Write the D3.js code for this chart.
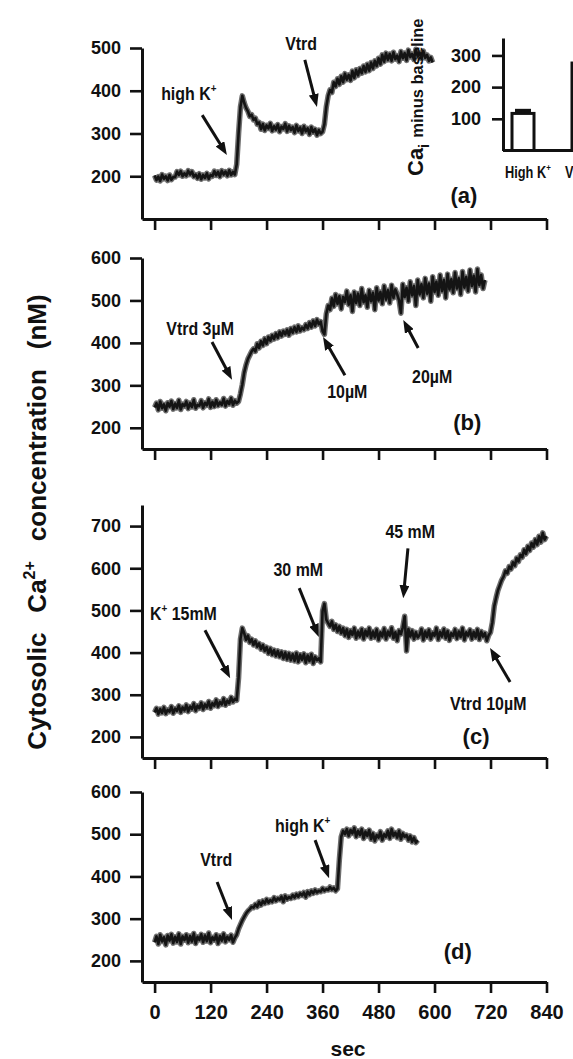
<!DOCTYPE html>
<html>
<head>
<meta charset="utf-8">
<script src="https://cdn.jsdelivr.net/npm/d3@7"></script>
<style>
  body { margin: 0; background: #fff; }
  svg { display: block; font-family: "Liberation Sans", Arial, Helvetica, sans-serif; font-weight: bold; }
</style>
</head>
<body>
<svg id="fig" width="573" height="1059"></svg>
<script>
// ---------- data ----------
const sampleStep = 4;                       // seconds between recorded samples
const timeTicks = [0, 120, 240, 360, 480, 600, 720, 840];

// (a) high K+ then vatratoxin, Ca (nM)
const traceA = [
  202,191,199,189,204,194,200,190,203,192,198,
  198,211,203,212,200,207,201,213,204,211,
  199,204,195,206,193,203,196,207,194,203,
  200,212,202,210,199,213,204,211,201,214,203,210,204,
  228,300,362,388,372,360,352,340,344,332,336,322,
  326,310,322,307,319,312,324,306,317,309,321,304,316,311,323,305,318,308,315,302,
  319,306,314,300,317,305,312,298,315,303,310,296,308,300,304,
  322,362,388,402,396,420,
  410,428,415,434,420,440,426,437,424,446,430,449,436,452,441,458,444,462,447,466,
  452,470,458,476,462,484,468,488,472,
  486,470,490,474,482,468,492,476,488,471,495,479,486,473,497,480,489,475,493,477,
  484,470,478,466
];

// (b) cumulative vatratoxin 3, 10, 20 µM
const traceB = [
  248,258,242,262,246,255,240,259,250,263,244,257,247,265,243,256,251,262,245,258,
  249,266,246,254,252,264,247,259,253,268,248,261,250,266,252,260,254,269,251,263,
  256,270,253,264,258,262,
  280,302,330,348,362,371,380,386,
  380,398,388,404,394,410,398,414,405,418,409,422,412,426,416,428,420,431,418,434,
  424,437,426,440,428,436,431,443,434,448,437,452,440,455,444,450,428,
  420,468,488,
  478,505,486,514,492,510,480,508,496,522,
  490,512,474,520,494,516,488,528,496,512,
  484,524,498,518,478,530,500,520,492,534,
  502,524,494,536,506,526,514,500,470,538,
  508,530,498,544,512,534,488,548,514,538,
  506,552,516,540,498,556,520,544,512,560,
  522,548,506,562,526,550,518,566,528,552,
  514,568,530,555,522,572,534,558,520,574,
  536,560,528,548
];

// (c) K+ 15, 30, 45 mM then vatratoxin 10 µM
const traceC = [
  258,268,254,266,257,270,255,264,260,272,256,267,262,274,258,270,263,276,260,272,
  266,279,262,274,268,281,265,277,270,284,268,280,274,288,272,283,277,291,275,286,
  280,294,283,290,287,
  340,432,458,
  446,430,440,424,432,418,428,414,422,408,418,404,413,398,410,395,406,392,404,390,
  402,386,400,384,398,382,396,380,399,378,395,383,397,376,393,380,396,374,390,382,
  386,378,
  498,516,
  478,470,462,474,455,466,450,462,446,458,
  440,455,436,452,442,458,434,450,438,456,
  432,452,440,458,434,450,436,455,430,448,
  438,457,432,450,440,459,434,448,428,452,
  444,460,486,404,456,438,452,432,448,436,
  442,456,430,450,437,454,432,447,440,458,
  431,449,438,456,434,451,429,446,439,455,
  433,450,437,458,430,448,440,454,432,449,
  436,455,431,450,438,446,428,441,
  448,472,510,530,548,560,572,580,594,588,604,598,614,606,624,616,632,626,644,634,
  652,642,660,650,668,656,676,662,684,668,676
];

// (d) vatratoxin then high K+
const traceD = [
  244,258,240,262,246,256,238,260,248,263,242,257,245,264,240,258,249,262,243,259,
  246,265,241,257,250,263,244,260,247,266,243,256,249,262,241,259,248,264,245,257,
  250,261,244,255,
  262,276,286,296,304,312,318,322,328,326,334,
  328,340,332,342,336,346,338,344,340,350,342,348,345,352,340,354,346,351,348,356,
  350,358,352,360,355,362,351,364,357,366,360,368,362,366,364,372,366,370,368,375,
  369,373,366,371,
  440,494,508,
  500,512,496,510,502,515,494,508,498,512,490,506,496,510,488,502,484,498,492,506,
  486,500,494,508,490,512,496,504,492,508,488,502,494,498,486,496,482,492,480,486
];

// inset: Ca_i minus baseline
const insetGroups = ["High K", "Vtrd"];
const insetMeans  = [117, 276];
const insetErrors = [9, 10];
const insetTicks  = [100, 200, 300];

// ---------- layout ----------
const svg = d3.select("#fig");
const x = d3.scaleLinear().domain([-27, 840]).range([142, 546.5]);

const panels = [
  { id: "a", trace: traceA, domain: [100, 500], range: [219, 48],  ticks: [200, 300, 400, 500],
    tag: { t: 663, v: 137 },
    notes: [
      { text: ["high K", "+"], at: [14, 378], anchor: "start", tail: [102, 343], tip: [155, 250] },
      { text: ["Vtrd"], at: [314, 495], anchor: "middle", tail: [322, 472], tip: [348, 362] }
    ] },
  { id: "b", trace: traceB, domain: [150, 600], range: [449, 258], ticks: [200, 300, 400, 500, 600],
    tag: { t: 670, v: 195 },
    notes: [
      { text: ["Vtrd 3µM"], at: [25, 419], anchor: "start", tail: [123, 402], tip: [166, 313] },
      { text: ["10µM"], at: [413, 270], anchor: "middle", tail: [408, 324], tip: [361, 414] },
      { text: ["20µM"], at: [595, 305], anchor: "middle", tail: [565, 388], tip: [533, 454] }
    ] },
  { id: "c", trace: traceC, domain: [150, 750], range: [758, 505], ticks: [200, 300, 400, 500, 600, 700],
    tag: { t: 689, v: 183 },
    notes: [
      { text: ["K", "+", " 15mM"], at: [-10, 477], anchor: "start", tail: [108, 453], tip: [162, 339] },
      { text: ["30 mM"], at: [308, 581], anchor: "middle", tail: [310, 553], tip: [352, 437] },
      { text: ["45 mM"], at: [548, 671], anchor: "middle", tail: [543, 647], tip: [533, 529] },
      { text: ["Vtrd 10µM"], at: [715, 264], anchor: "middle", tail: [762, 330], tip: [719, 411] }
    ] },
  { id: "d", trace: traceD, domain: [150, 600], range: [982, 792], ticks: [200, 300, 400, 500, 600],
    tag: { t: 650, v: 204 },
    notes: [
      { text: ["Vtrd"], at: [132, 425], anchor: "middle", tail: [134, 387], tip: [166, 297] },
      { text: ["high K", "+"], at: [258, 505], anchor: "start", tail: [344, 486], tip: [374, 396] }
    ] }
];

// arrowhead
svg.append("defs").append("marker")
  .attr("id", "head")
  .attr("viewBox", "0 0 13 10")
  .attr("refX", 5).attr("refY", 5)
  .attr("markerWidth", 13).attr("markerHeight", 10)
  .attr("markerUnits", "userSpaceOnUse")
  .attr("orient", "auto")
  .append("path").attr("d", "M0,0L13,5L0,10Z").attr("fill", "#111");

function styleAxis(g) {
  g.select(".domain").attr("stroke", "#111").attr("stroke-width", 3);
  g.selectAll(".tick line").attr("stroke", "#111").attr("stroke-width", 2.6);
  g.selectAll(".tick text").attr("fill", "#111").attr("font-weight", "bold");
}

// text with optional superscript pieces (odd entries are raised)
function richText(g, px, py, parts, size, anchor, squeeze) {
  const t = g.append("text")
    .attr("transform", `translate(${px},${py}) scale(${squeeze},1)`)
    .attr("text-anchor", anchor)
    .attr("font-size", size)
    .attr("fill", "#111");
  parts.forEach((p, i) => {
    const sup = i % 2 === 1;
    const prevSup = i > 0 && (i - 1) % 2 === 1;
    const s = t.append("tspan").text(p);
    if (sup) s.attr("font-size", size * 0.62).attr("dy", -size * 0.42);
    else if (prevSup) s.attr("dy", size * 0.42);
  });
  return t;
}

panels.forEach(p => {
  const y = d3.scaleLinear().domain(p.domain).range(p.range);
  const g = svg.append("g").attr("class", "panel-" + p.id);

  // recorded trace: grey halo under a dark core
  const line = d3.line()
    .x((d, i) => x(i * sampleStep))
    .y(d => y(d));
  g.append("path").datum(p.trace)
    .attr("d", line)
    .attr("fill", "none")
    .attr("stroke", "#5e5e5e")
    .attr("stroke-width", 5.5)
    .attr("stroke-linejoin", "round")
    .attr("opacity", 0.9);
  g.append("path").datum(p.trace)
    .attr("d", line)
    .attr("fill", "none")
    .attr("stroke", "#141414")
    .attr("stroke-width", 2.6)
    .attr("stroke-linejoin", "round");

  // axes
  const yAxis = g.append("g")
    .attr("transform", "translate(142,0)")
    .call(d3.axisLeft(y).tickValues(p.ticks).tickSize(12).tickPadding(9).tickSizeOuter(0));
  yAxis.selectAll(".tick text").attr("font-size", 18);
  styleAxis(yAxis);

  const xAxis = g.append("g")
    .attr("transform", `translate(0,${p.range[0]})`)
    .call(d3.axisBottom(x).tickValues(timeTicks).tickSize(11).tickPadding(12).tickSizeOuter(0));
  xAxis.selectAll(".tick text").attr("font-size", 20);
  if (p.id !== "d") xAxis.selectAll(".tick text").remove();
  styleAxis(xAxis);

  // annotations
  p.notes.forEach(n => {
    richText(g, x(n.at[0]), y(n.at[1]), n.text, 19, n.anchor, 0.84);
    const x1 = x(n.tail[0]), y1 = y(n.tail[1]), x2 = x(n.tip[0]), y2 = y(n.tip[1]);
    const len = Math.hypot(x2 - x1, y2 - y1);
    const back = 8;
    g.append("line")
      .attr("x1", x1).attr("y1", y1)
      .attr("x2", x2 - (x2 - x1) / len * back)
      .attr("y2", y2 - (y2 - y1) / len * back)
      .attr("stroke", "#111").attr("stroke-width", 3)
      .attr("marker-end", "url(#head)");
  });

  g.append("text")
    .attr("x", x(p.tag.t)).attr("y", y(p.tag.v))
    .attr("text-anchor", "middle").attr("font-size", 22).attr("fill", "#111")
    .text("(" + p.id + ")");
});

// x-axis title
svg.append("text").attr("x", 348).attr("y", 1056)
  .attr("text-anchor", "middle").attr("font-size", 21).attr("fill", "#111").text("sec");

// y-axis title
const yTitle = svg.append("text")
  .attr("transform", "translate(46,522) rotate(-90)")
  .attr("text-anchor", "middle").attr("font-size", 26).attr("fill", "#111");
yTitle.append("tspan").text("Cytosolic");
yTitle.append("tspan").attr("dx", 20).text("Ca");
yTitle.append("tspan").attr("font-size", 16).attr("dy", -11).text("2+");
yTitle.append("tspan").attr("dx", 20).attr("dy", 11).text("concentration");
yTitle.append("tspan").attr("dx", 20).text("(nM)");

// ---------- inset bar chart ----------
const inset = svg.append("g").attr("class", "inset");
const ib = d3.scaleBand().domain(insetGroups).range([493, 613]).paddingInner(0.6333).paddingOuter(0.3167);
const iy = d3.scaleLinear().domain([0, 355]).range([150.5, 38]);

inset.selectAll("rect.bar").data(insetMeans).join("rect")
  .attr("class", "bar")
  .attr("x", (d, i) => ib(insetGroups[i]))
  .attr("width", ib.bandwidth())
  .attr("y", d => iy(d))
  .attr("height", d => iy(0) - iy(d))
  .attr("fill", "#fff").attr("stroke", "#111").attr("stroke-width", 3);

inset.selectAll("line.err").data(insetMeans).join("line")
  .attr("class", "err")
  .attr("x1", (d, i) => ib(insetGroups[i]) + 3)
  .attr("x2", (d, i) => ib(insetGroups[i]) + ib.bandwidth() - 3)
  .attr("y1", (d, i) => iy(d + insetErrors[i]))
  .attr("y2", (d, i) => iy(d + insetErrors[i]))
  .attr("stroke", "#111").attr("stroke-width", 3.5);
inset.selectAll("line.errv").data(insetMeans).join("line")
  .attr("class", "errv")
  .attr("x1", (d, i) => ib(insetGroups[i]) + ib.bandwidth() / 2)
  .attr("x2", (d, i) => ib(insetGroups[i]) + ib.bandwidth() / 2)
  .attr("y1", (d, i) => iy(d + insetErrors[i]))
  .attr("y2", d => iy(d))
  .attr("stroke", "#111").attr("stroke-width", 3);

const iyAxis = inset.append("g").attr("transform", "translate(503,0)")
  .call(d3.axisLeft(iy).tickValues(insetTicks).tickSize(11).tickPadding(11).tickSizeOuter(0));
iyAxis.selectAll(".tick text").attr("font-size", 18);
styleAxis(iyAxis);

inset.append("line")
  .attr("x1", 503).attr("x2", 600)
  .attr("y1", iy(0)).attr("y2", iy(0))
  .attr("stroke", "#111").attr("stroke-width", 3);

insetGroups.forEach((name, i) => {
  const parts = i === 0 ? [name, "+"] : [name];
  richText(inset, ib(name) - 7, 178, parts, 16, "start", 0.8);
});

const iTitle = inset.append("text")
  .attr("transform", "translate(423,176) rotate(-90)")
  .attr("fill", "#111");
iTitle.append("tspan").attr("font-size", 22).text("Ca");
iTitle.append("tspan").attr("font-size", 15).attr("dy", 6).text("i");
iTitle.append("tspan").attr("font-size", 16.5).attr("dy", -6).attr("dx", 6).text("minus baseline");
</script>
</body>
</html>
